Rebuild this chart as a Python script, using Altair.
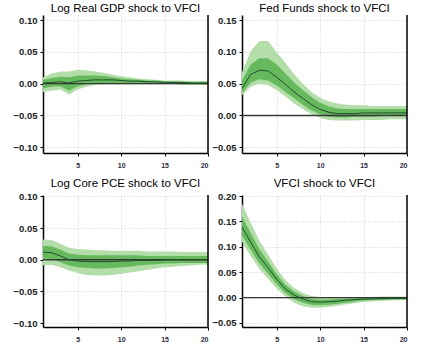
import altair as alt
import pandas as pd

steps = list(range(1, 21))

# Log Real GDP shock to VFCI
gdp_mean = [0.001,0.002,0.003,0.001,0.004,0.005,0.006,0.006,0.006,0.005,0.004,0.004,0.003,0.003,0.002,0.002,0.002,0.001,0.001,0.001]
gdp_hi90 = [0.010,0.016,0.019,0.019,0.022,0.021,0.019,0.017,0.014,0.0115,0.010,0.008,0.007,0.006,0.005,0.005,0.005,0.004,0.004,0.004]
gdp_lo90 = [-0.013,-0.011,-0.009,-0.017,-0.009,-0.005,-0.002,-0.001,-0.001,-0.001,-0.001,-0.001,-0.001,-0.001,-0.001,-0.001,-0.002,-0.002,-0.002,-0.002]
gdp_hi68 = [0.006,0.009,0.011,0.010,0.013,0.013,0.013,0.012,0.010,0.008,0.007,0.006,0.005,0.005,0.004,0.004,0.003,0.003,0.003,0.003]
gdp_lo68 = [-0.007,-0.005,-0.004,-0.011,-0.004,-0.001,0.000,0.001,0.001,0.001,0.001,0.000,0.000,0.000,0.000,0.000,-0.001,-0.001,-0.001,-0.001]

# Fed Funds shock to VFCI
ff_mean = [0.0425,0.0645,0.071,0.070,0.060,0.049,0.037,0.027,0.017,0.0095,0.005,0.003,0.003,0.003,0.004,0.004,0.004,0.004,0.004,0.004]
ff_hi90 = [0.068,0.101,0.117,0.117,0.099,0.083,0.065,0.050,0.037,0.028,0.022,0.019,0.017,0.016,0.016,0.015,0.015,0.015,0.015,0.015]
ff_lo90 = [0.032,0.045,0.050,0.048,0.040,0.030,0.019,0.010,0.002,-0.004,-0.007,-0.008,-0.008,-0.008,-0.007,-0.007,-0.007,-0.006,-0.006,-0.006]
ff_hi68 = [0.055,0.080,0.090,0.090,0.080,0.066,0.052,0.040,0.029,0.020,0.014,0.011,0.010,0.010,0.010,0.010,0.010,0.010,0.010,0.010]
ff_lo68 = [0.035,0.052,0.057,0.055,0.047,0.037,0.027,0.017,0.008,0.002,-0.002,-0.003,-0.003,-0.002,-0.002,-0.002,-0.001,-0.001,-0.001,-0.001]

# Log Core PCE shock to VFCI
pce_mean = [0.012,0.011,0.006,0.000,-0.002,-0.003,-0.003,-0.003,-0.003,-0.002,-0.002,-0.001,-0.001,-0.001,0.000,0.000,0.000,0.000,0.000,0.000]
pce_hi90 = [0.032,0.031,0.025,0.019,0.017,0.016,0.015,0.015,0.014,0.014,0.014,0.014,0.013,0.013,0.013,0.013,0.012,0.012,0.012,0.012]
pce_lo90 = [-0.009,-0.008,-0.012,-0.017,-0.021,-0.024,-0.025,-0.025,-0.024,-0.022,-0.020,-0.018,-0.016,-0.014,-0.012,-0.011,-0.010,-0.009,-0.008,-0.008]
pce_hi68 = [0.022,0.021,0.016,0.010,0.008,0.007,0.007,0.007,0.007,0.007,0.007,0.007,0.006,0.006,0.006,0.006,0.006,0.006,0.006,0.006]
pce_lo68 = [0.002,0.001,-0.004,-0.009,-0.012,-0.013,-0.014,-0.014,-0.013,-0.012,-0.011,-0.009,-0.008,-0.007,-0.006,-0.006,-0.005,-0.005,-0.005,-0.005]

# VFCI shock to VFCI
vf_mean = [0.139,0.109,0.080,0.059,0.036,0.017,0.005,-0.003,-0.008,-0.009,-0.008,-0.007,-0.005,-0.004,-0.003,-0.003,-0.002,-0.002,-0.002,-0.002]
vf_hi90 = [0.185,0.148,0.112,0.085,0.057,0.034,0.019,0.009,0.003,0.001,0.001,0.001,0.001,0.001,0.001,0.001,0.002,0.002,0.002,0.002]
vf_lo90 = [0.110,0.082,0.056,0.037,0.018,0.002,-0.010,-0.017,-0.020,-0.020,-0.018,-0.016,-0.013,-0.011,-0.009,-0.008,-0.007,-0.006,-0.005,-0.005]
vf_hi68 = [0.160,0.127,0.095,0.071,0.046,0.025,0.012,0.003,-0.003,-0.004,-0.004,-0.003,-0.002,-0.002,-0.001,-0.001,-0.001,0.000,0.000,0.000]
vf_lo68 = [0.122,0.094,0.067,0.047,0.026,0.009,-0.003,-0.010,-0.014,-0.015,-0.014,-0.012,-0.010,-0.008,-0.006,-0.005,-0.005,-0.004,-0.004,-0.004]

x_ticks = [5, 10, 15, 20]

FONT = "Liberation Sans"
LIGHT = "#b3dea9"
MID = "#66b95c"
DARK = "#1d4f2c"
W = 165


def panel(title, mean, hi90, lo90, hi68, lo68, ydom, yticks, height, toff):
    df = pd.DataFrame({"step": steps, "mean": mean, "hi90": hi90, "lo90": lo90,
                       "hi68": hi68, "lo68": lo68, "zero": [0.0] * len(steps)})
    xs = alt.Scale(domain=[1, 20], nice=False, zero=False)
    ys = alt.Scale(domain=ydom, nice=False, zero=False)
    xax = alt.Axis(values=x_ticks, title=None, grid=True, gridDash=[1, 2],
                   gridColor="#cfcfcf", domainColor="black", domainWidth=1.5,
                   tickColor="black", tickSize=3, labelFontSize=7,
                   labelFontWeight="bold", labelColor="#2a2a40", labelPadding=5,
                   labelFont=FONT, labelOverlap=False)
    yax = alt.Axis(values=yticks, format=".2f", title=None, grid=True,
                   gridDash=[1, 2], gridColor="#cfcfcf", domainColor="black",
                   domainWidth=1.5, tickColor="black", tickSize=3,
                   labelFontSize=9.5, labelFontWeight="bold", labelColor="#222222",
                   labelPadding=3, labelFont=FONT, minExtent=30, maxExtent=30,
                   labelOverlap=False, labelFlush=False)
    X = alt.X("step:Q", scale=xs, axis=xax)
    base = alt.Chart(df)
    outer = base.mark_area(color=LIGHT, clip=True).encode(
        x=X, y=alt.Y("lo90:Q", scale=ys, axis=yax), y2="hi90:Q")
    inner = base.mark_area(color=MID, clip=True).encode(
        x=X, y=alt.Y("lo68:Q", scale=ys, axis=yax), y2="hi68:Q")
    zero = base.mark_line(color="#383838", strokeWidth=1.3, clip=True).encode(
        x=X, y=alt.Y("zero:Q", scale=ys, axis=yax))
    line = base.mark_line(color=DARK, strokeWidth=1, clip=True).encode(
        x=X, y=alt.Y("mean:Q", scale=ys, axis=yax))
    edge = alt.Chart(pd.DataFrame({"a": [0]})).mark_rule(
        color="black", strokeWidth=1.5).encode(
        x=alt.value(W), y=alt.value(0), y2=alt.value(height))
    return alt.layer(outer, inner, zero, line, edge).properties(
        width=W, height=height,
        title=alt.TitleParams(title, font=FONT, fontSize=11.5, fontWeight="normal",
                              color="black", offset=toff, anchor="middle"))


p1 = panel("Log Real GDP shock to VFCI", gdp_mean, gdp_hi90, gdp_lo90, gdp_hi68, gdp_lo68,
           [-0.109, 0.108], [-0.1, -0.05, 0, 0.05, 0.1], 138, 0)
p2 = panel("Fed Funds shock to VFCI", ff_mean, ff_hi90, ff_lo90, ff_hi68, ff_lo68,
           [-0.059, 0.158], [-0.05, 0, 0.05, 0.1, 0.15], 138, 0)
p3 = panel("Log Core PCE shock to VFCI", pce_mean, pce_hi90, pce_lo90, pce_hi68, pce_lo68,
           [-0.106, 0.102], [-0.1, -0.05, 0, 0.05, 0.1], 132, 2)
p4 = panel("VFCI shock to VFCI", vf_mean, vf_hi90, vf_lo90, vf_hi68, vf_lo68,
           [-0.058, 0.202], [-0.05, 0, 0.05, 0.1, 0.15, 0.2], 132, 2)

chart = alt.vconcat(
    alt.hconcat(p1, p2, spacing=2),
    alt.hconcat(p3, p4, spacing=2),
    spacing=9,
).properties(
    padding={"left": 12, "top": 2, "right": 5, "bottom": 5},
    background="white",
).configure_view(stroke=None)

chart.save("out.html", embed_options={"renderer": "svg", "actions": False})
